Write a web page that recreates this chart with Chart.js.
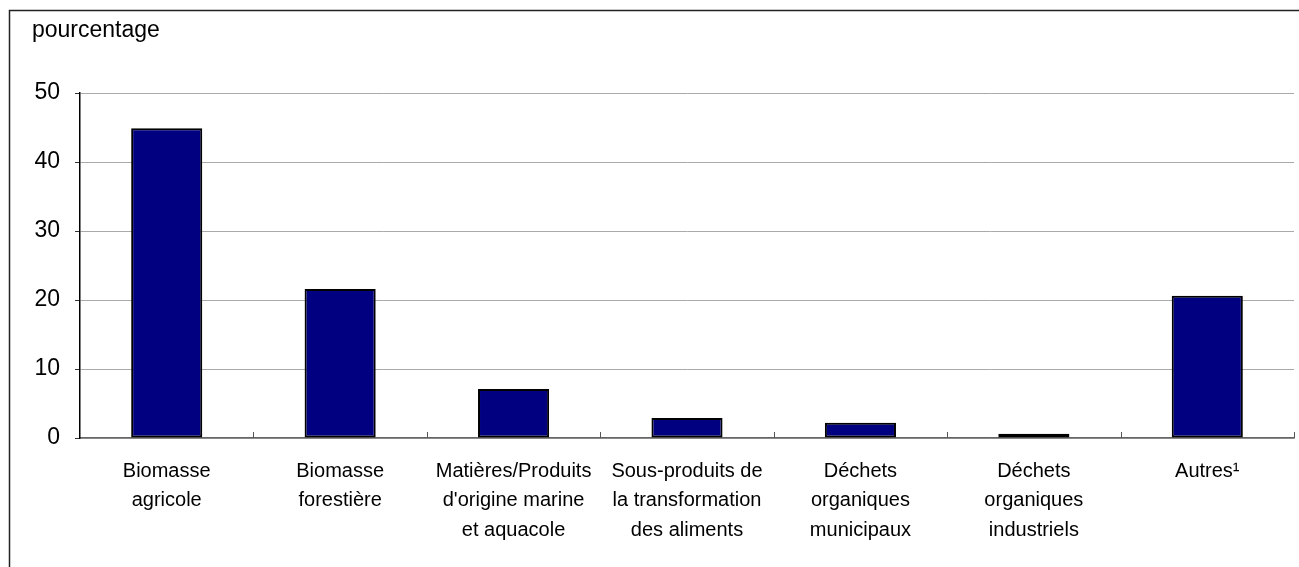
<!DOCTYPE html>
<html>
<head>
<meta charset="utf-8">
<script src="https://cdn.jsdelivr.net/npm/chart.js@4/dist/chart.umd.min.js"></script>
<style>
  html, body { margin: 0; padding: 0; background: #fff; }
  #wrap { width: 1299px; height: 567px; }
</style>
</head>
<body>
<div id="wrap"><canvas id="biomassChart" width="1299" height="567"></canvas></div>
<script>
// ===================== Data =====================
const categories = [
    ['Biomasse', 'agricole'],
    ['Biomasse', 'forestière'],
    ['Matières/Produits', "d'origine marine", 'et aquacole'],
    ['Sous-produits de', 'la transformation', 'des aliments'],
    ['Déchets', 'organiques', 'municipaux'],
    ['Déchets', 'organiques', 'industriels'],
    ['Autres¹']
];
const shares = [44.9, 21.6, 7.1, 2.9, 2.2, 0.6, 20.6];
const yTicks = [0, 10, 20, 30, 40, 50];
const yTitle = 'pourcentage';

const FONT = '"Liberation Sans", Arial, sans-serif';

// frame, axis title and inward category ticks
const decorations = {
    id: 'decorations',
    beforeDraw(chart) {
        const c = chart.ctx;
        c.save();
        c.strokeStyle = '#222';
        c.lineWidth = 1.5;
        c.beginPath();
        c.moveTo(9.5, 567);
        c.lineTo(9.5, 10.5);
        c.lineTo(1299, 10.5);
        c.stroke();
        c.fillStyle = '#000';
        c.font = '23px ' + FONT;
        c.textBaseline = 'alphabetic';
        c.fillText(yTitle, 32, 37);
        c.restore();
    },
    afterDatasetsDraw(chart) {
        const c = chart.ctx;
        const x = chart.scales.x;
        const bottom = chart.chartArea.bottom;
        c.save();
        c.strokeStyle = '#555';
        c.lineWidth = 1;
        for (let i = 1; i <= categories.length; i++) {
            const px = Math.round(x.getPixelForValue(i - 0.5)) + 0.5;
            c.beginPath();
            c.moveTo(px, bottom);
            c.lineTo(px, bottom - 6);
            c.stroke();
        }
        c.restore();
    }
};

const ctx = document.getElementById('biomassChart').getContext('2d');
new Chart(ctx, {
    type: 'bar',
    data: {
        labels: categories,
        datasets: [{
            data: shares,
            backgroundColor: '#000080',
            borderColor: '#000',
            borderWidth: 2,
            borderSkipped: false,
            categoryPercentage: 1,
            barPercentage: 0.41
        }]
    },
    options: {
        responsive: false,
        animation: false,
        layout: { padding: { top: 93, right: 5, left: 0, bottom: 0 } },
        plugins: {
            legend: { display: false },
            tooltip: { enabled: false }
        },
        scales: {
            x: {
                afterFit(scale) { scale.height = 129; },
                grid: { display: false },
                border: { color: '#666', width: 1.5 },
                ticks: {
                    color: '#000',
                    font: { family: FONT, size: 20, lineHeight: 1.46 },
                    padding: 11,
                    maxRotation: 0,
                    autoSkip: false
                }
            },
            y: {
                min: 0,
                max: 50,
                afterFit(scale) { scale.width = 80; },
                afterBuildTicks(scale) { scale.ticks = yTicks.map(v => ({ value: v })); },
                grid: {
                    color: '#aaa',
                    lineWidth: 1,
                    tickColor: '#333',
                    tickLength: 5
                },
                border: { color: '#000', width: 1.5 },
                ticks: {
                    color: '#000',
                    font: { family: FONT, size: 23 },
                    padding: 15
                }
            }
        }
    },
    plugins: [decorations]
});
</script>
</body>
</html>
